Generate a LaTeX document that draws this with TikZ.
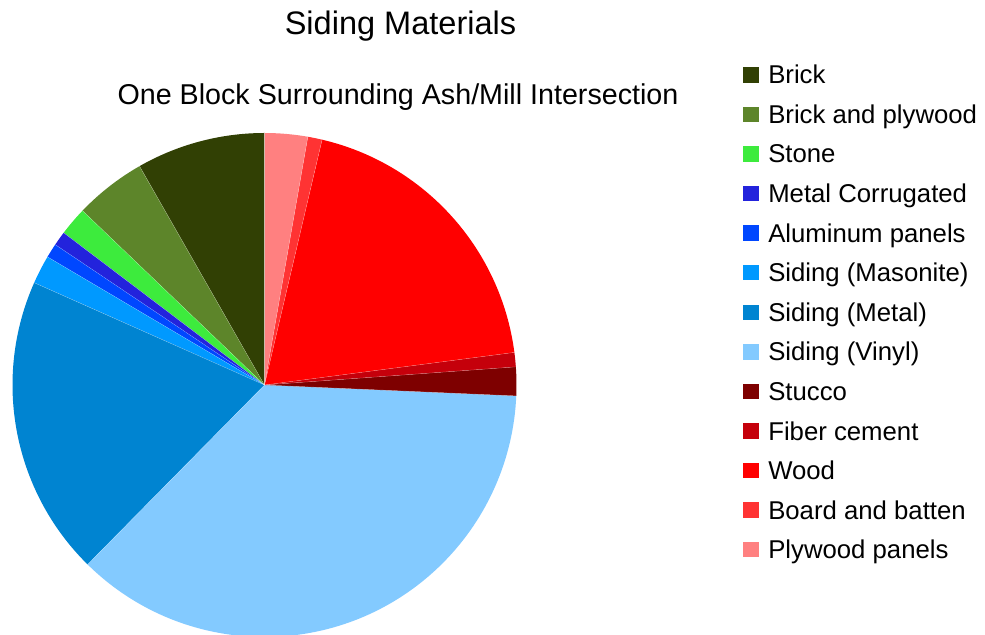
\documentclass[tikz,border=0pt]{standalone}
\usepackage{fontspec}
\setmainfont{Liberation Sans}
\usetikzlibrary{calc}

% slice colours
\definecolor{cBrick}{HTML}{314004}
\definecolor{cBrickPly}{HTML}{5D852A}
\definecolor{cStone}{HTML}{3DEB3D}
\definecolor{cMetalCorr}{HTML}{2323DC}
\definecolor{cAlum}{HTML}{0047FF}
\definecolor{cMasonite}{HTML}{0099FF}
\definecolor{cSidMetal}{HTML}{0084D1}
\definecolor{cVinyl}{HTML}{83CAFF}
\definecolor{cStucco}{HTML}{7E0000}
\definecolor{cFiber}{HTML}{C5000B}
\definecolor{cWood}{HTML}{FF0000}
\definecolor{cBatten}{HTML}{FF3333}
\definecolor{cPlyPanel}{HTML}{FF8080}

\begin{document}
\begin{tikzpicture}[x=0.75pt,y=0.75pt,
  slice/.style={draw=white,line width=0.2pt,draw opacity=0.45},
  titletext/.style={anchor=base,inner sep=0pt,font=\fontsize{24.4}{29}\selectfont},
  subtext/.style={anchor=base,inner sep=0pt,font=\fontsize{21.5}{26}\selectfont},
  keybox/.style={inner sep=0pt,minimum size=11.6pt,draw=none},
  keytext/.style={anchor=base west,inner sep=0pt,font=\fontsize{19.3}{23}\selectfont}]

\fill[white] (0,0) rectangle (985,635);
\useasboundingbox (0,0) rectangle (985,635);

% titles
\node[titletext] (title) at (400.5,600) {Siding Materials};
\node[subtext] (subtitle) at (398,530) {One Block Surrounding Ash/Mill Intersection};

% pie: 109 buildings (3.302752 degrees each), slices run counterclockwise from 12 o'clock
\coordinate (C) at (264.5,250);
\def\R{189pt}
\def\unitdeg{3.302752}
\foreach \col/\a/\b in {cBrick/0/9, cBrickPly/9/14, cStone/14/16, cMetalCorr/16/17,
    cAlum/17/18, cMasonite/18/20, cSidMetal/20/41, cVinyl/41/81, cStucco/81/83,
    cFiber/83/84, cWood/84/105, cBatten/105/106, cPlyPanel/106/109}{
  \pgfmathsetmacro\sa{90+\a*\unitdeg}
  \pgfmathsetmacro\ea{90+\b*\unitdeg}
  \fill[\col] (C) -- ([shift={(\sa:\R)}]C) arc[start angle=\sa,end angle=\ea,radius=\R] -- cycle;
}
\foreach \a in {0,9,14,16,17,18,20,41,81,83,84,105,106}{
  \pgfmathsetmacro\sa{90+\a*\unitdeg}
  \draw[slice] (C) -- ([shift={(\sa:\R)}]C);
}

% legend
\foreach \col/\lab [count=\i from 0] in {cBrick/Brick, cBrickPly/Brick and plywood,
    cStone/Stone, cMetalCorr/Metal Corrugated, cAlum/Aluminum panels,
    cMasonite/Siding (Masonite), cSidMetal/Siding (Metal), cVinyl/Siding (Vinyl),
    cStucco/Stucco, cFiber/Fiber cement, cWood/Wood, cBatten/Board and batten,
    cPlyPanel/Plywood panels}{
  \pgfmathsetmacro\yy{635-74.8-39.58*\i}
  \node[keybox,fill=\col] (key\i) at (751,\yy) {};
  \node[keytext] (lab\i) at (768,\yy-9) {\lab};
}
\end{tikzpicture}
\end{document}
